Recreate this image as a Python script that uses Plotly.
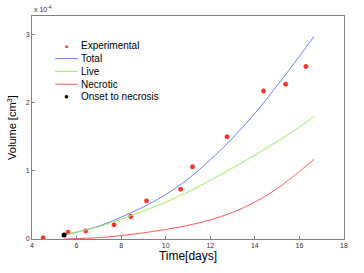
import plotly.graph_objects as go

# Volumes in units of 1e-4 cm^3
exp_t = [4.5, 5.62, 6.41, 7.68, 8.43, 9.14, 10.67, 11.20, 12.75, 14.39, 15.38, 16.29]
exp_v = [0.02, 0.10, 0.12, 0.21, 0.33, 0.56, 0.73, 1.06, 1.50, 2.17, 2.27, 2.53]

curve_t = [5.45, 6, 7, 8, 9, 10, 11, 12, 13, 14, 15, 16, 16.65]
total_v = [0.06, 0.10, 0.19, 0.32, 0.47, 0.65, 0.88, 1.16, 1.48, 1.84, 2.25, 2.68, 2.97]
live_v = [0.06, 0.10, 0.18, 0.29, 0.41, 0.54, 0.69, 0.86, 1.04, 1.23, 1.43, 1.64, 1.80]
necr_v = [0.0, 0.005, 0.02, 0.05, 0.09, 0.14, 0.20, 0.28, 0.39, 0.54, 0.74, 0.99, 1.17]

onset_t = [5.44]
onset_v = [0.06]

x_ticks = [4, 6, 8, 10, 12, 14, 16, 18]
y_ticks = [0, 1, 2, 3]

legend_names = ["Experimental", "Total", "Live", "Necrotic", "Onset to necrosis"]
RED_PT, BLUE, GREEN, RED = "#ff3030", "#7080ff", "#99ee55", "#ff5a5a"

fig = go.Figure()
fig.add_trace(go.Scatter(x=exp_t, y=exp_v, mode="markers", name=legend_names[0],
                         marker=dict(symbol="asterisk-open", size=4,
                                     line=dict(color=RED_PT, width=1.5), color=RED_PT)))
fig.add_trace(go.Scatter(x=curve_t, y=total_v, mode="lines", name=legend_names[1], line_shape="spline",
                         line=dict(color=BLUE, width=1)))
fig.add_trace(go.Scatter(x=curve_t, y=live_v, mode="lines", name=legend_names[2], line_shape="spline",
                         line=dict(color=GREEN, width=1)))
fig.add_trace(go.Scatter(x=curve_t, y=necr_v, mode="lines", name=legend_names[3], line_shape="spline",
                         line=dict(color=RED, width=1)))
fig.add_trace(go.Scatter(x=onset_t, y=onset_v, mode="markers", name=legend_names[4],
                         marker=dict(symbol="circle", size=5, color="black")))

axis_common = dict(showline=True, linecolor="#808080", linewidth=1, mirror=True,
                   ticks="inside", ticklen=3, tickcolor="#808080", showgrid=False,
                   zeroline=False, automargin=False, tickfont=dict(size=7, color="#333333"))

# Compact manual legend (plot-area paper coordinates)
row_y = [0.867, 0.809, 0.752, 0.694, 0.637]
line_x0, line_x1, sym_x, text_x = 0.074, 0.147, 0.109, 0.151
annotations = []
shapes = []
for i, name in enumerate(legend_names):
    annotations.append(dict(text=name, x=text_x, y=row_y[i], xref="paper", yref="paper",
                            xanchor="left", yanchor="middle", showarrow=False,
                            font=dict(size=10, color="black")))
for i, col in [(1, BLUE), (2, GREEN), (3, RED)]:
    shapes.append(dict(type="line", xref="paper", yref="paper", x0=line_x0, x1=line_x1,
                       y0=row_y[i], y1=row_y[i], line=dict(color=col, width=1)))
annotations.append(dict(text="■", x=sym_x, y=row_y[0], xref="paper", yref="paper",
                        xanchor="center", yanchor="middle", showarrow=False,
                        font=dict(size=5, color=RED_PT)))
annotations.append(dict(text="●", x=sym_x, y=row_y[4], xref="paper", yref="paper",
                        xanchor="center", yanchor="middle", showarrow=False,
                        font=dict(size=8, color="black")))
annotations.append(dict(text="x 10<sup>-4</sup>", x=0, y=1, xref="paper", yref="paper",
                        xanchor="left", yanchor="bottom", showarrow=False, yshift=1,
                        font=dict(size=7, color="#333333")))

fig.update_layout(
    width=364, height=273,
    margin=dict(l=32, r=20, t=16, b=34),
    paper_bgcolor="white", plot_bgcolor="white",
    font=dict(family="Liberation Sans, Arial, sans-serif", color="black"),
    showlegend=False,
    xaxis=dict(range=[4, 18], tickvals=x_ticks, title=dict(text="Time[days]", font=dict(size=12), standoff=3),
               **axis_common),
    yaxis=dict(range=[0, 3.27], tickvals=y_ticks, title=dict(text="Volume [cm<sup>3</sup>]", font=dict(size=11), standoff=6),
               **axis_common),
    annotations=annotations,
    shapes=shapes,
)

fig.write_html("out.html", config={"displayModeBar": False},
               post_script="document.body.style.margin='0';")
